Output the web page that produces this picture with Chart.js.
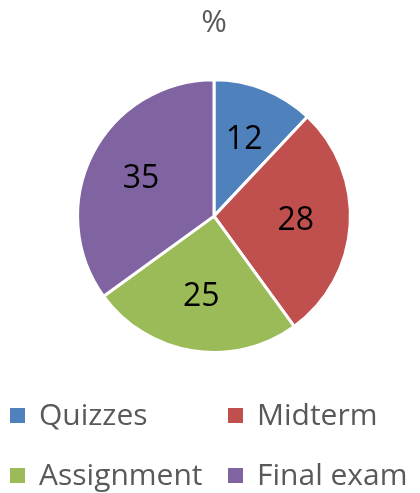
<!DOCTYPE html>
<html>
<head>
<meta charset="utf-8">
<script src="https://cdn.jsdelivr.net/npm/chart.js@4"></script>
<style>
  html, body { margin: 0; padding: 0; background: #fff; }
  #wrap { width: 420px; height: 493px; }
</style>
</head>
<body>
<div id="wrap"><canvas id="myChart" width="420" height="493"></canvas></div>
<script>
const categories = ['Quizzes', 'Midterm', 'Assignment', 'Final exam'];
const percentages = [12, 28, 25, 35];
const sliceColors = ['#4F81BD', '#C0504D', '#9BBB59', '#8064A2'];
const chartTitle = '%';

const FONT = '"Open Sans", "Liberation Sans", sans-serif';

// numbers inside the slices
const sliceLabels = {
    id: 'sliceLabels',
    afterDatasetsDraw(chart) {
        const ctx = chart.ctx;
        const meta = chart.getDatasetMeta(0);
        ctx.save();
        ctx.font = '32px ' + FONT;
        ctx.fillStyle = '#000';
        ctx.textAlign = 'center';
        ctx.textBaseline = 'middle';
        meta.data.forEach((arc, i) => {
            const mid = (arc.startAngle + arc.endAngle) / 2;
            const r = arc.outerRadius * 0.6;
            ctx.fillText(String(chart.data.datasets[0].data[i]),
                arc.x + Math.cos(mid) * r, arc.y + Math.sin(mid) * r);
        });
        ctx.restore();
    }
};

// legend laid out as a 2x2 grid like the original
const gridLegend = {
    id: 'gridLegend',
    afterDraw(chart) {
        const ctx = chart.ctx;
        const colX = [10, 228];
        const rowY = [416, 476];
        ctx.save();
        ctx.font = '30px ' + FONT;
        ctx.textBaseline = 'middle';
        chart.data.labels.forEach((lab, i) => {
            const x = colX[i % 2];
            const y = rowY[Math.floor(i / 2)];
            ctx.fillStyle = chart.data.datasets[0].backgroundColor[i];
            ctx.fillRect(x, y - 8, 15, 15);
            ctx.fillStyle = '#595959';
            ctx.fillText(lab, x + 29, y);
        });
        ctx.restore();
    }
};

const ctx = document.getElementById('myChart').getContext('2d');
const myChart = new Chart(ctx, {
    type: 'pie',
    data: {
        labels: categories,
        datasets: [{
            data: percentages,
            backgroundColor: sliceColors,
            borderColor: '#ffffff',
            borderWidth: 3
        }]
    },
    options: {
        responsive: false,
        animation: false,
        layout: {
            padding: { left: 8, right: 0, top: 0, bottom: 139 }
        },
        plugins: {
            legend: { display: false },
            tooltip: { enabled: false },
            title: {
                display: true,
                text: chartTitle,
                color: '#595959',
                font: { family: FONT, size: 31, weight: 'normal' },
                padding: { top: 5, bottom: 36 }
            }
        }
    },
    plugins: [sliceLabels, gridLegend]
});
</script>
</body>
</html>
